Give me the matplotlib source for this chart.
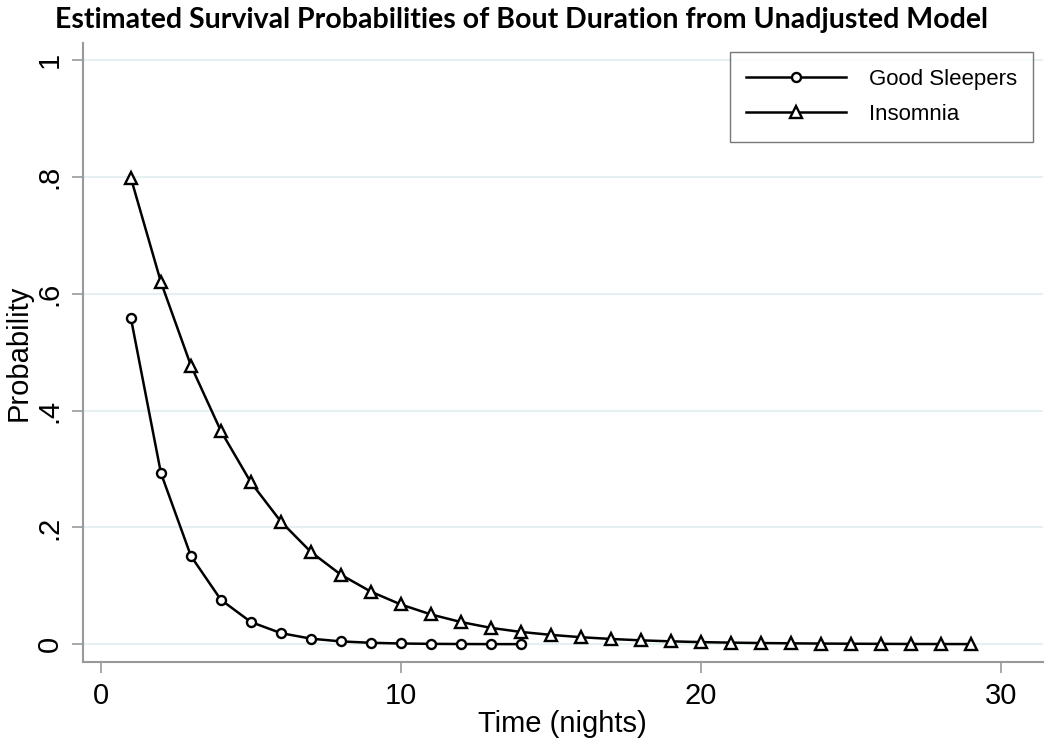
import matplotlib.pyplot as plt
import numpy as np

# 数据
nights_good = np.arange(1, 15)
good = [0.558, 0.293, 0.151, 0.076, 0.038, 0.019, 0.0095, 0.0048, 0.0024,
        0.0012, 0.0006, 0.0003, 0.00015, 0.0001]

nights_ins = np.arange(1, 30)
insomnia = [0.798, 0.620, 0.477, 0.365, 0.277, 0.210, 0.158, 0.119, 0.090,
            0.068, 0.051, 0.038, 0.028, 0.021, 0.016, 0.012, 0.009, 0.0066,
            0.0049, 0.0036, 0.0027, 0.0020, 0.0015, 0.0011, 0.0008, 0.0006,
            0.0004, 0.0003, 0.0002]

xticks = [0, 10, 20, 30]
yticks = [0, 0.2, 0.4, 0.6, 0.8, 1.0]
ytick_labels = ["0", ".2", ".4", ".6", ".8", "1"]

plt.rcParams['font.family'] = ['Liberation Sans', 'DejaVu Sans']

fig = plt.figure(figsize=(10.5, 7.45), dpi=100)
ax = fig.add_axes([0.079, 0.111, 0.914, 0.831])

ax.plot(nights_good, good, color='black', lw=1.8, marker='o', ms=6.5,
        mfc='white', mec='black', mew=1.7, label='Good Sleepers')
ax.plot(nights_ins, insomnia, color='black', lw=1.8, marker='^', ms=8,
        mfc='white', mec='black', mew=1.7, label='Insomnia')

ax.set_xlim(-0.6, 31.4)
ax.set_ylim(-0.031, 1.029)
ax.set_xticks(xticks)
ax.set_yticks(yticks)
ax.set_yticklabels(ytick_labels, rotation=90, va='center')
ax.tick_params(axis='both', labelsize=21, color='#999999', length=8,
               width=1.2, direction='out', pad=6)

# 网格线
ax.yaxis.grid(True, color='#e6eff1', lw=1.5)
ax.set_axisbelow(True)

for s in ['top', 'right']:
    ax.spines[s].set_visible(False)
for s in ['left', 'bottom']:
    ax.spines[s].set_color('#999999')
    ax.spines[s].set_linewidth(1.5)

ax.set_xlabel("Time (nights)", fontsize=21, labelpad=0)
ax.set_ylabel("Probability", fontsize=21, labelpad=2)

fig.suptitle("Estimated Survival Probabilities of Bout Duration from Unadjusted Model",
             x=0.497, y=0.99, fontsize=20.5, fontweight='bold', family='Lato')

leg = ax.legend(loc='upper right', bbox_to_anchor=(1.002, 1.004), fontsize=16,
                handlelength=4.5, frameon=True, fancybox=False,
                edgecolor='#555555', borderpad=0.75, labelspacing=0.65,
                handletextpad=1.0)
leg.get_frame().set_linewidth(1.0)

plt.savefig("out.png", dpi=100)
